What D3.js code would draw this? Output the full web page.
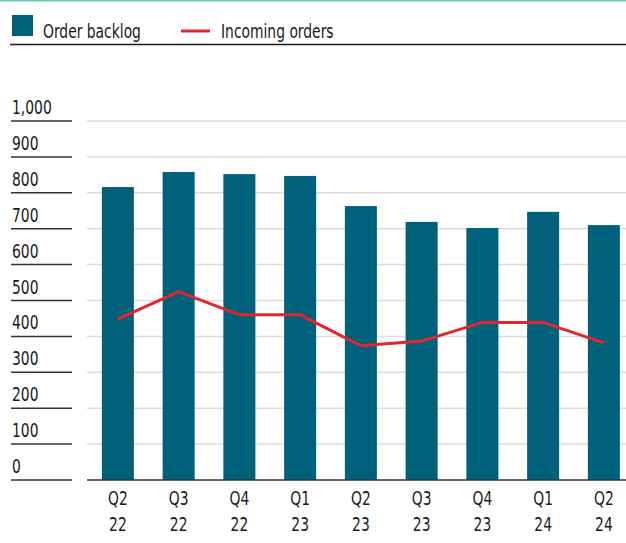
<!DOCTYPE html>
<html>
<head>
<meta charset="utf-8">
<script src="https://cdn.jsdelivr.net/npm/d3@7"></script>
<style>
  html, body { margin: 0; padding: 0; background: #fff; }
  svg { display: block; }
  text { font-family: "DejaVu Sans Condensed", "DejaVu Sans", sans-serif; font-stretch: condensed; fill: #1a1a1a; }
</style>
</head>
<body>
<script>
const quarters = ["Q2", "Q3", "Q4", "Q1", "Q2", "Q3", "Q4", "Q1", "Q2"];
const years = ["22", "22", "22", "23", "23", "23", "23", "24", "24"];
const categories = quarters.map((q, i) => q + " " + years[i]);
const orderBacklog = [816, 858, 852, 847, 763, 719, 702, 747, 710];
const incomingOrders = [448, 525, 460, 460, 374, 387, 439, 439, 382];
const yTicks = [0, 100, 200, 300, 400, 500, 600, 700, 800, 900, 1000];
const seriesNames = ["Order backlog", "Incoming orders"];

const W = 626, H = 543;
const FS = 19;
const svg = d3.select("body").append("svg").attr("width", W).attr("height", H);

// measure to compress glyphs horizontally like the reference's narrow face
const probe = svg.append("text").attr("font-size", FS).text(seriesNames[0]);
const K = 98 / probe.node().getComputedTextLength();
probe.remove();

function label(g, tx, ty, str, anchor) {
  return g.append("text")
    .attr("transform", `translate(${tx},${ty}) scale(${K},1)`)
    .attr("text-anchor", anchor || "start")
    .attr("font-size", FS)
    .text(str);
}

const x = d3.scaleBand().domain(categories).range([87.5, 634.25]).paddingInner(0.473).paddingOuter(0.2365);
const y = d3.scaleLinear().domain([0, 1000]).range([480, 121]);

// top accent line
svg.append("rect").attr("x", 0).attr("y", 0).attr("width", W).attr("height", 1.5).attr("fill", "#6cc6bc");

// legend
const lg = svg.append("g");
lg.append("rect").attr("x", 12).attr("y", 15).attr("width", 21).attr("height", 21).attr("fill", "#00617c");
label(lg, 43, 38, seriesNames[0]);
lg.append("line").attr("x1", 181).attr("x2", 210).attr("y1", 31).attr("y2", 31).attr("stroke", "#e3262b").attr("stroke-width", 3);
label(lg, 221, 38, seriesNames[1]);
svg.append("line").attr("x1", 10).attr("x2", W).attr("y1", 44.5).attr("y2", 44.5).attr("stroke", "#1a1a1a").attr("stroke-width", 1.5);

// gridlines
svg.append("g").selectAll("line").data(yTicks.filter(d => d > 0)).join("line")
  .attr("x1", 87).attr("x2", W)
  .attr("y1", d => y(d)).attr("y2", d => y(d))
  .attr("stroke", "#dcdcdc").attr("stroke-width", 1.5);

// y tick labels and underlines
const fmt = d3.format(",");
const yg = svg.append("g");
yg.selectAll("line").data(yTicks).join("line")
  .attr("x1", 11).attr("x2", 72)
  .attr("y1", d => y(d)).attr("y2", d => y(d))
  .attr("stroke", "#333").attr("stroke-width", 1.5);
yTicks.forEach(d => label(yg, 12, y(d) - 7, fmt(d)));

// bars
svg.append("g").selectAll("rect").data(orderBacklog).join("rect")
  .attr("x", (d, i) => x(categories[i]))
  .attr("width", x.bandwidth())
  .attr("y", d => y(d))
  .attr("height", d => y(0) - y(d))
  .attr("fill", "#00617c");

// baseline
svg.append("line").attr("x1", 87).attr("x2", W).attr("y1", y(0)).attr("y2", y(0)).attr("stroke", "#333").attr("stroke-width", 1.5);

// line
const line = d3.line().x((d, i) => x(categories[i]) + x.bandwidth() / 2).y(d => y(d));
svg.append("path").datum(incomingOrders).attr("d", line)
  .attr("fill", "none").attr("stroke", "#e3262b").attr("stroke-width", 3);

// x labels
const xg = svg.append("g");
categories.forEach((c, i) => {
  const cx = x(c) + x.bandwidth() / 2;
  label(xg, cx, 505, quarters[i], "middle");
  label(xg, cx, 531, years[i], "middle");
});
</script>
</body>
</html>
